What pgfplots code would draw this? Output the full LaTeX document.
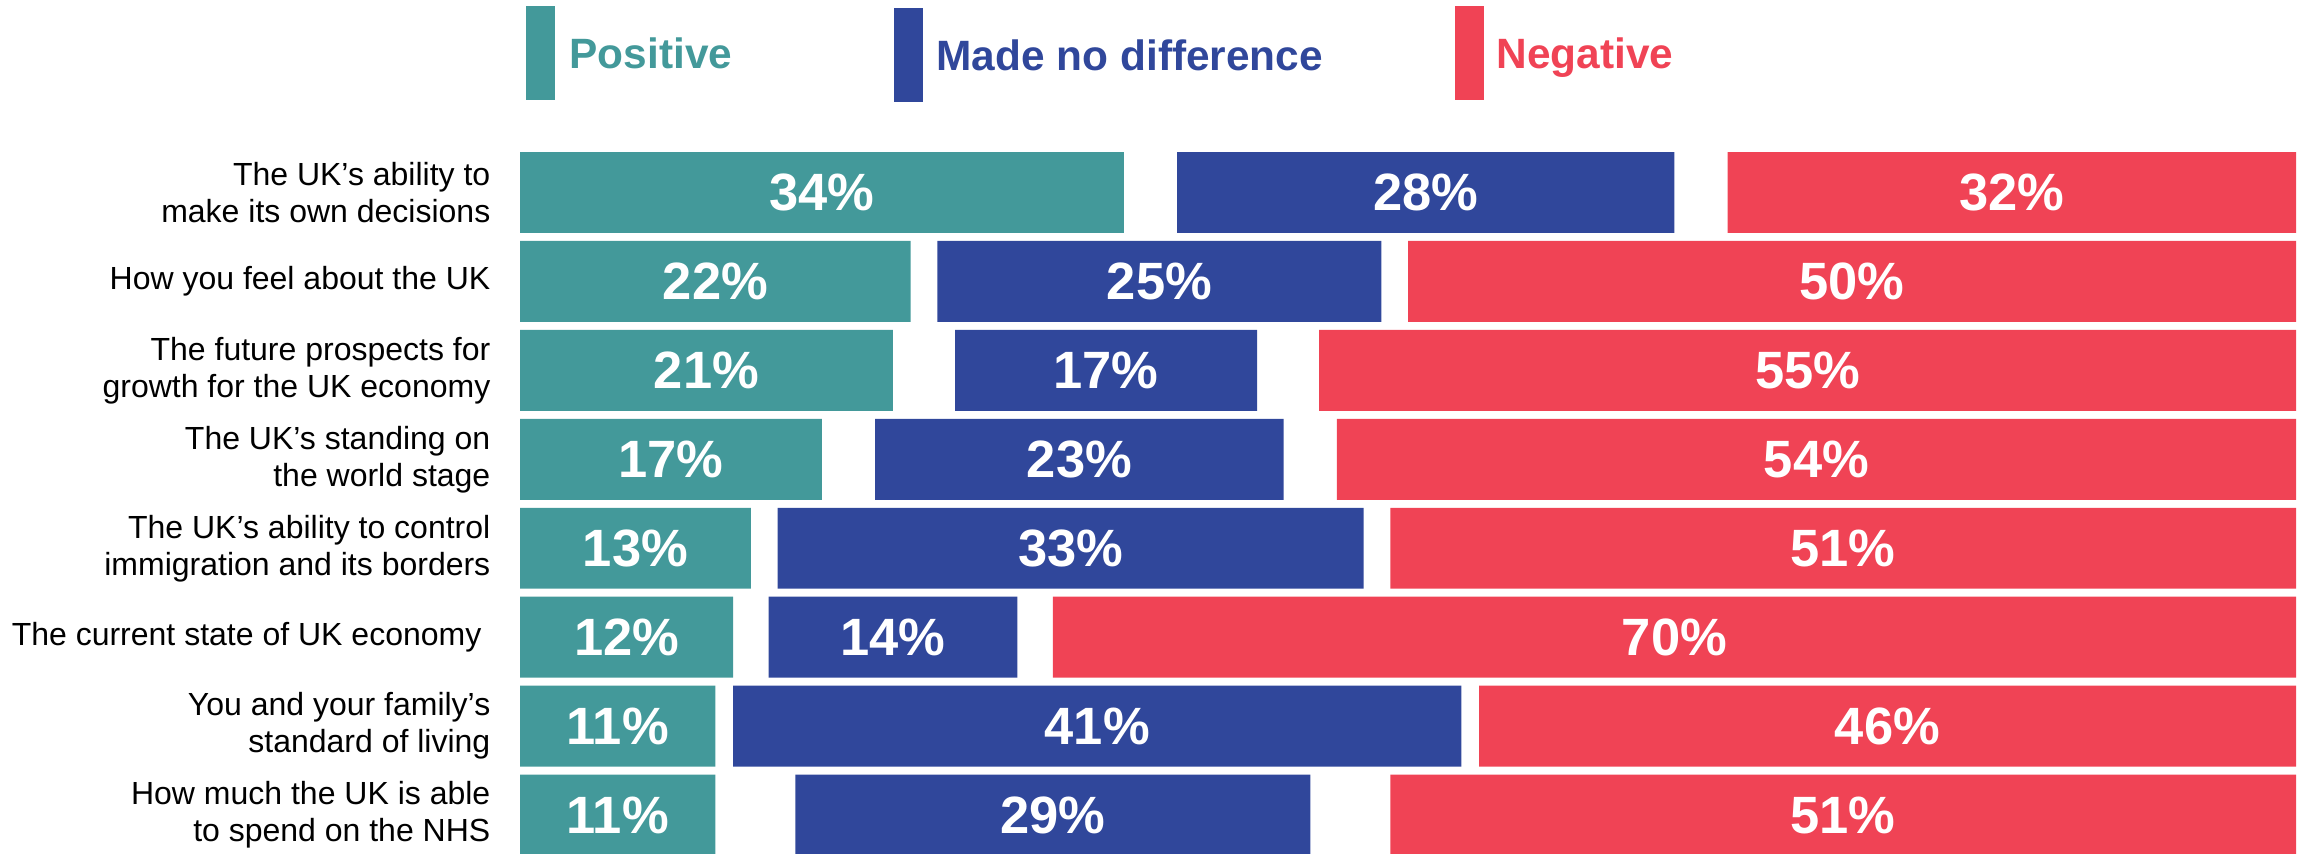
\documentclass[border=0pt]{standalone}
\usepackage{pgfplots}
\usepackage{pgfplotstable}
\pgfplotsset{compat=1.18}
\usepackage{fontspec}
\setmainfont{Liberation Sans}
\definecolor{cpos}{HTML}{43999A}
\definecolor{cneu}{HTML}{30479B}
\definecolor{cneg}{HTML}{F04355}
\pgfplotstableread{
row pos ga neu gb neg
1 34 3 28 3 32
2 22 1.5 25 1.5 50
3 21 3.5 17 3.5 55
4 17 3 23 3 54
5 13 1.5 33 1.5 51
6 12 2 14 2 70
7 11 1 41 1 46
8 11 4.5 29 4.5 51
}\data
\pgfplotsset{
  barlab/.style={
    nodes near coords={\pgfplotspointmeta\%},
    point meta=explicit symbolic,
    every node near coord/.style={anchor=center, text=white, inner sep=0pt,
      font=\fontsize{15.75bp}{18bp}\selectfont\bfseries},
  }
}
\begin{document}
\begin{tikzpicture}
\useasboundingbox (0,0) rectangle (692.4bp,256.2bp);
% legend
\fill[cpos] (157.8bp,254.4bp) rectangle (166.5bp,226.2bp);
\fill[cneu] (268.2bp,253.8bp) rectangle (276.9bp,225.6bp);
\fill[cneg] (436.5bp,254.4bp) rectangle (445.2bp,226.2bp);
\node[anchor=base west, inner sep=0pt, text=cpos, font=\fontsize{12.72bp}{15bp}\selectfont\bfseries] at (170.7bp,235.5bp) {Positive};
\node[anchor=base west, inner sep=0pt, text=cneu, font=\fontsize{12.72bp}{15bp}\selectfont\bfseries] at (280.8bp,234.9bp) {Made no difference};
\node[anchor=base west, inner sep=0pt, text=cneg, font=\fontsize{12.72bp}{15bp}\selectfont\bfseries] at (448.8bp,235.5bp) {Negative};
\begin{axis}[
  at={(156bp,-1.65bp)}, anchor=south west,
  scale only axis, width=532.8bp, height=213.45bp,
  xbar stacked, bar width=0.91,
  xmin=0, xmax=100, ymin=0.5, ymax=8.5, y dir=reverse,
  enlargelimits=false,
  axis line style={draw=none}, tick style={draw=none},
  major tick length=0pt,
  xtick=\empty, ytick={1,2,3,4,5,6,7,8},
  yticklabels={
    {The UK’s ability to\\make its own decisions},
    {How you feel about the UK},
    {The future prospects for\\growth for the UK economy},
    {The UK’s standing on\\the world stage},
    {The UK’s ability to control\\immigration and its borders},
    {The current state of UK economy\hspace{2.7bp}},
    {You and your family’s\\standard of living},
    {How much the UK is able\\to spend on the NHS}},
  yticklabel style={font=\fontsize{9.6bp}{11.1bp}\selectfont, align=right, inner sep=0pt, text=black},
  yticklabel shift=8.7bp,
]
\addplot[fill=cpos, draw=none, barlab] table[x=pos, y=row, meta=pos]{\data};
\addplot[fill=none, draw=none] table[x=ga, y=row]{\data};
\addplot[fill=cneu, draw=none, barlab] table[x=neu, y=row, meta=neu]{\data};
\addplot[fill=none, draw=none] table[x=gb, y=row]{\data};
\addplot[fill=cneg, draw=none, barlab] table[x=neg, y=row, meta=neg]{\data};
\end{axis}
\end{tikzpicture}
\end{document}
